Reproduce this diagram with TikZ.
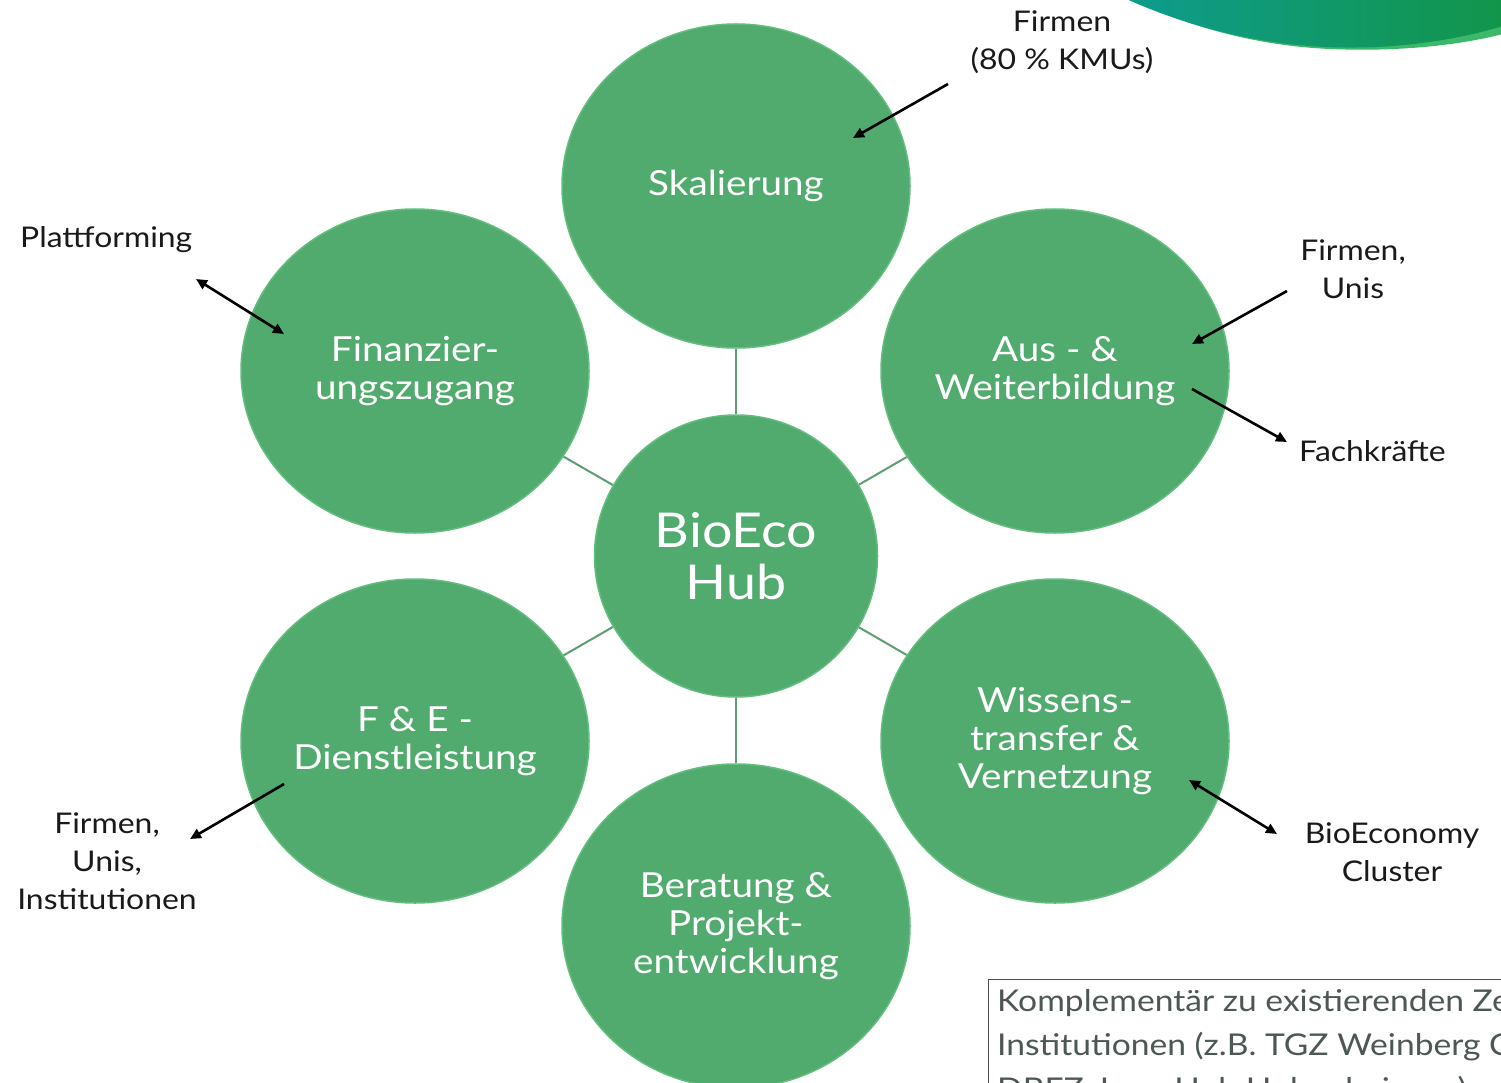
\documentclass[tikz,border=0pt]{standalone}
\usepackage{fontspec}
\setmainfont{Lato}[FakeStretch=1.12]
\usetikzlibrary{shapes.geometric,arrows.meta}
\definecolor{bub}{HTML}{52AB6E}
\definecolor{bubrim}{HTML}{62BE7E}
\definecolor{conn}{HTML}{5E9E72}
\definecolor{swA}{HTML}{0E9C8E}
\definecolor{swB}{HTML}{12954A}
\definecolor{swC}{HTML}{3DB86A}
\definecolor{lbl}{HTML}{1A1A1A}
\definecolor{boxtxt}{HTML}{4E5853}
\tikzset{
  bubble/.style={ellipse, fill=bub, draw=bubrim, line width=1.5pt, inner sep=0pt,
    minimum width=348pt, minimum height=324pt, text=white, align=center,
    font=\fontsize{34.5}{38}\selectfont},
  hubstyle/.style={ellipse, fill=bub, draw=bubrim, line width=1.5pt, inner sep=0pt,
    minimum width=283pt, minimum height=282pt, text=white, align=center,
    font=\fontsize{48}{52}\selectfont},
  lab/.style={text=lbl, align=center, inner sep=0pt, font=\fontsize{28.5}{38}\selectfont},
  link/.style={draw=conn, line width=2pt},
  arr/.style={draw=black, line width=2.6pt, -{Triangle[length=11pt,width=10pt]}},
  darr/.style={draw=black, line width=2.6pt, {Triangle[length=11pt,width=10pt]}-{Triangle[length=11pt,width=10pt]}},
}
\begin{document}
\begin{tikzpicture}[x=1pt,y=-1pt]
\clip (0,0) rectangle (1501,1083);
\fill[white] (0,0) rectangle (1501,1083);
% swoosh
\fill[swC] (1128,-2) .. controls (1190,28) and (1260,46) .. (1330,49) .. controls (1400,52) and (1460,45) .. (1503,34) -- (1503,-2) -- cycle;
\shade[left color=swA, right color=swB] (1124,-2) .. controls (1186,26) and (1256,44) .. (1326,47) .. controls (1396,50) and (1456,40) .. (1503,26) -- (1503,-2) -- cycle;
% bubbles
\node[bubble] (skal) at (736,186) {Skalierung};
\node[bubble] (fin) at (415,371) {Finanzier-\\ungszugang};
\node[bubble] (aus) at (1055,371) {Aus - \&\\Weiterbildung};
\node[bubble] (fue) at (415,741) {F \& E -\\Dienstleistung};
\node[bubble] (wis) at (1055,741) {Wissens-\\transfer \&\\Vernetzung};
\node[bubble] (ber) at (736,926) {Beratung \&\\Projekt-\\entwicklung};
\node[hubstyle] (hub) at (736,556) {BioEco\\Hub};
% connectors
\draw[link] (hub) -- (skal);
\draw[link] (hub) -- (ber);
\draw[link] (hub) -- (fin);
\draw[link] (hub) -- (aus);
\draw[link] (hub) -- (fue);
\draw[link] (hub) -- (wis);
% outer labels
\node[lab] (lfirm) at (1062,42) {Firmen\\(80 \% KMUs)};
\node[lab, anchor=west] (lplat) at (20,240) {Plattforming};
\node[lab] (lfu) at (1353,269) {Firmen,\\Unis};
\node[lab, anchor=west] (lfach) at (1299,451) {Fachkräfte};
\node[lab] (lfui) at (107,861) {Firmen,\\Unis,\\Institutionen};
\node[lab] (lbio) at (1392,852) {BioEconomy\\Cluster};
% arrow endpoints
\coordinate (a1s) at (948,84);   \coordinate (a1e) at (853,138);
\coordinate (a2s) at (196,279);  \coordinate (a2e) at (284,334);
\coordinate (a3s) at (1287,291); \coordinate (a3e) at (1192,344);
\coordinate (a4s) at (1192,389); \coordinate (a4e) at (1287,442);
\coordinate (a5s) at (284,784);  \coordinate (a5e) at (190,839);
\coordinate (a6s) at (1189,780); \coordinate (a6e) at (1277,834);
\draw[arr] (a1s) -- (a1e);
\draw[darr] (a2s) -- (a2e);
\draw[arr] (a3s) -- (a3e);
\draw[arr] (a4s) -- (a4e);
\draw[arr] (a5s) -- (a5e);
\draw[darr] (a6s) -- (a6e);
% note box
\draw[draw=black!70, line width=1pt] (988,979) rectangle (1540,1120);
\node[anchor=north west, align=left, inner sep=0pt, text=boxtxt,
      font=\fontsize{30}{44}\selectfont] (note) at (997,989)
  {Komplementär zu existierenden Zentren\\Institutionen (z.B. TGZ Weinberg Campus,\\DBFZ, Inno Hub Hohenheim, ...)};
\end{tikzpicture}
\end{document}
